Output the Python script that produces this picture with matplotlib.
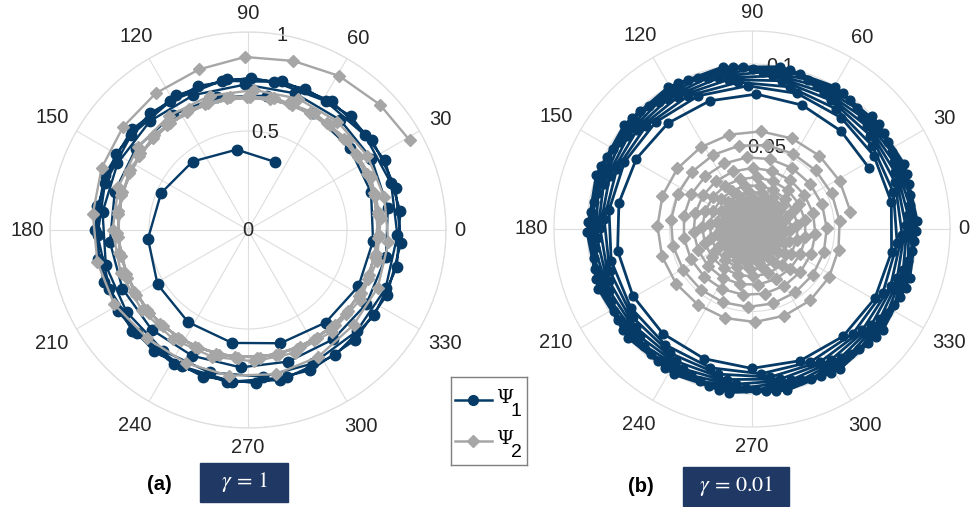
import numpy as np
import matplotlib.pyplot as plt
from matplotlib.patches import Rectangle

# colours
blue = '#053b66'
grey = '#a6a6a6'
gridc = '#dedede'
textc = '#262626'
boxc = '#1f3864'

theta_ticks = [0, 30, 60, 90, 120, 150, 180, 210, 240, 270, 300, 330]
# distance of each angle label from the centre, as a fraction of the outer ring
theta_lab_r = [1.07, 1.12, 1.115, 1.095, 1.13, 1.14, 1.115, 1.145, 1.14, 1.10, 1.145, 1.15]

# ---------------- panel (a), gamma = 1 ----------------
a_rticks = [0, 0.5, 1]
a_rlabels = ['0', '0.5', '1']

# psi1: angle in degrees (unwrapped), modulus
a_psi1_theta = [68, 98, 129, 157, 185, 211, 237, 262, 286, 310, 333, 355, 377, 399, 421,
                442, 463, 483, 504, 524, 545, 565, 586, 606, 627, 647, 668, 688, 709, 729,
                750, 770, 791, 811, 832, 852, 873, 893, 914, 934, 955, 975, 996, 1016, 1037, 1057, 1078, 1098,
                1119, 1139, 1160, 1180, 1201, 1221, 1242, 1262, 1283, 1303, 1324, 1344, 1365, 1385, 1406, 1426, 1447, 1467,
                1488, 1508, 1529, 1549, 1570, 1590, 1611, 1631, 1652, 1672, 1693, 1713, 1734, 1754, 1775, 1795, 1816, 1836,
                1857, 1877, 1898, 1918, 1939, 1959, 1980, 2000, 2021, 2041, 2062, 2082]
a_psi1_r = [0.37, 0.41, 0.445, 0.477, 0.507, 0.533, 0.555, 0.576, 0.595, 0.61, 0.626, 0.634, 0.65, 0.66, 0.675,
            0.685, 0.69, 0.695, 0.70, 0.70, 0.70, 0.70, 0.70, 0.695, 0.695, 0.695, 0.70, 0.705, 0.71, 0.715,
            0.72, 0.725, 0.73, 0.735, 0.735, 0.74, 0.74, 0.74, 0.74, 0.74, 0.745, 0.745, 0.745, 0.75, 0.75, 0.755, 0.755, 0.76,
            0.76, 0.76, 0.76, 0.765, 0.76, 0.76, 0.76, 0.76, 0.76, 0.765, 0.765, 0.77, 0.77, 0.77, 0.77, 0.775, 0.775, 0.775,
            0.775, 0.77, 0.77, 0.77, 0.77, 0.77, 0.77, 0.77, 0.775, 0.775, 0.775, 0.775, 0.775, 0.775, 0.775, 0.775, 0.775, 0.775,
            0.775, 0.77, 0.77, 0.77, 0.775, 0.775, 0.775, 0.775, 0.775, 0.775, 0.775, 0.775]

a_psi2_theta = [29, 43.5, 59.4, 75, 91, 107, 124, 140.5, 157, 174, 192, 209, 227, 245, 262.6, 281, 299, 318, 336, 355,
                373.5, 392, 410.5, 429, 447.5, 466, 484.5, 503, 521.5, 540, 558.5, 577, 595.5, 614, 632.5, 651, 669.5, 688, 706.5,
                725, 743.5, 762, 780.5, 799, 817.5, 836, 854.5, 873, 891.5, 910, 928.5, 947, 965.5, 984, 1002.5, 1021, 1039.5, 1058, 1076.5,
                1095, 1113.5, 1132, 1150.5, 1169, 1187.5, 1206, 1224.5, 1243, 1261.5, 1280, 1298.5, 1317, 1335.5, 1354, 1372.5, 1391, 1409.5, 1428,
                1446.5, 1465, 1483.5, 1502, 1520.5, 1539, 1557.5, 1576, 1594.5, 1613, 1631.5, 1650, 1668.5, 1687, 1705.5, 1724, 1742.5, 1761, 1779.5, 1798,
                1816.5, 1835, 1853.5, 1872, 1890.5, 1909, 1927.5, 1946, 1964.5, 1983, 2001.5, 2020, 2038.5, 2057, 2075.5, 2094, 2112.5, 2131, 2149.5, 2168]
a_psi2_r = [0.934, 0.919, 0.904, 0.884, 0.874, 0.848, 0.833, 0.818, 0.803, 0.788, 0.778, 0.773, 0.747, 0.742, 0.742, 0.742, 0.732, 0.717, 0.717, 0.712,
            0.708, 0.710, 0.710, 0.710, 0.708, 0.705, 0.701, 0.696, 0.690, 0.684, 0.678, 0.672, 0.668, 0.665, 0.664, 0.664, 0.665, 0.667, 0.670,
            0.673, 0.676, 0.679, 0.680, 0.681, 0.680, 0.678, 0.674, 0.670, 0.665, 0.660, 0.656, 0.652, 0.649, 0.647, 0.647, 0.649, 0.652, 0.655, 0.659,
            0.663, 0.667, 0.670, 0.672, 0.673, 0.672, 0.671, 0.668, 0.664, 0.660, 0.656, 0.652, 0.649, 0.647, 0.647, 0.648, 0.650, 0.653, 0.657,
            0.661, 0.665, 0.669, 0.671, 0.673, 0.673, 0.672, 0.669, 0.666, 0.662, 0.657, 0.654, 0.650, 0.648, 0.647, 0.647, 0.649, 0.652, 0.655, 0.660,
            0.664, 0.667, 0.670, 0.672, 0.673, 0.672, 0.670, 0.667, 0.664, 0.659, 0.655, 0.652, 0.649, 0.647, 0.647, 0.648, 0.650, 0.654, 0.658, 0.662]

# ---------------- panel (b), gamma = 0.01 ----------------
b_rmax = 0.12
b_rticks = [0, 0.05, 0.1]
b_rlabels = ['0', '0.05', '0.1']

# psi1, one row per turn (degrees, unwrapped)
b_psi1_theta = [
    [27.5, 47.7, 67.9, 88.1, 108.3, 128.5, 148.7, 168.9, 189.1, 209.3, 229.5, 249.7, 269.9, 290.1, 310.3, 330.5, 350.7, 370.9],
    [391.1, 411.3, 431.5, 451.7, 471.9, 492.1, 512.3, 532.5, 552.7, 572.9, 593.1, 613.3, 633.5, 653.7, 673.9, 694.1, 714.3, 734.5],
    [754.7, 774.9, 795.1, 815.3, 835.5, 855.7, 875.9, 896.1, 916.3, 936.5, 956.7, 976.9, 997.1, 1017.3, 1037.5, 1057.7, 1077.9, 1098.1],
    [1118.3, 1138.5, 1158.7, 1178.9, 1199.1, 1219.3, 1239.5, 1259.7, 1279.9, 1300.1, 1320.3, 1340.5, 1360.7, 1380.9, 1401.1, 1421.3, 1441.5, 1461.7],
    [1481.9, 1502.1, 1522.3, 1542.5, 1562.7, 1582.9, 1603.1, 1623.3, 1643.5, 1663.7, 1683.9, 1704.1, 1724.3, 1744.5, 1764.7, 1784.9, 1805.1, 1825.3],
    [1845.5, 1865.7, 1885.9, 1906.1, 1926.3, 1946.5, 1966.7, 1986.9, 2007.1, 2027.3, 2047.5, 2067.7, 2087.9, 2108.1, 2128.3, 2148.5, 2168.7, 2188.9],
    [2209.1, 2229.3, 2249.5, 2269.7, 2289.9, 2310.1, 2330.3, 2350.5, 2370.7, 2390.9, 2411.1, 2431.3, 2451.5, 2471.7, 2491.9, 2512.1, 2532.3, 2552.5],
    [2572.7, 2592.9, 2613.1, 2633.3, 2653.5, 2673.7, 2693.9, 2714.1, 2734.3, 2754.5, 2774.7, 2794.9, 2815.1, 2835.3, 2855.5, 2875.7, 2895.9, 2916.1],
    [2936.3, 2956.5, 2976.7, 2996.9, 3017.1, 3037.3, 3057.5, 3077.7, 3097.9, 3118.1, 3138.3, 3158.5, 3178.7, 3198.9, 3219.1, 3239.3, 3259.5, 3279.7],
    [3299.9, 3320.1, 3340.3, 3360.5, 3380.7, 3400.9, 3421.1, 3441.3, 3461.5, 3481.7, 3501.9, 3522.1, 3542.3, 3562.5, 3582.7, 3602.9, 3623.1, 3643.3],
]
# modulus in units of 1e-3
b_psi1_r = [
    [80.0, 80.2, 81.0, 81.8, 81.8, 81.9, 82.0, 82.2, 82.5, 82.8, 83.3, 83.8, 84.5, 85.0, 85.3, 85.5, 85.7, 86.0],
    [86.2, 86.4, 86.6, 86.8, 87.0, 87.2, 87.3, 87.4, 87.5, 87.6, 87.7, 87.8, 87.9, 88.0, 88.1, 88.2, 88.4, 88.5],
    [88.7, 88.9, 89.1, 89.3, 89.5, 89.6, 89.7, 89.8, 89.9, 90.0, 90.1, 90.3, 90.4, 90.5, 90.7, 90.8, 91.0, 91.2],
    [91.4, 91.5, 91.6, 91.7, 91.8, 91.9, 92.0, 92.1, 92.2, 92.3, 92.4, 92.5, 92.6, 92.7, 92.8, 92.9, 93.1, 93.3],
    [93.4, 93.5, 93.6, 93.7, 93.8, 93.9, 94.0, 94.1, 94.2, 94.3, 94.4, 94.5, 94.6, 94.7, 94.8, 94.9, 95.0, 95.1],
    [95.2, 95.3, 95.4, 95.5, 95.6, 95.7, 95.8, 95.9, 96.0, 96.1, 96.1, 96.2, 96.3, 96.4, 96.4, 96.5, 96.6, 96.7],
    [96.8, 96.8, 96.9, 97.0, 97.1, 97.1, 97.2, 97.3, 97.3, 97.4, 97.5, 97.5, 97.6, 97.7, 97.7, 97.8, 97.8, 97.9],
    [98.0, 98.0, 98.1, 98.1, 98.2, 98.2, 98.3, 98.3, 98.4, 98.4, 98.5, 98.5, 98.6, 98.6, 98.7, 98.7, 98.8, 98.8],
    [98.9, 98.9, 99.0, 99.0, 99.1, 99.1, 99.2, 99.2, 99.3, 99.3, 99.4, 99.4, 99.5, 99.5, 99.6, 99.6, 99.7, 99.7],
    [99.8, 99.8, 99.8, 99.9, 99.9, 99.9, 100.0, 100.0, 100.0, 100.1, 100.1, 100.1, 100.2, 100.2, 100.2, 100.3, 100.3, 100.3],
]

b_psi2_theta = [
    [10.0, 28.7, 47.4, 66.1, 84.8, 103.5, 122.2, 140.9, 159.6, 178.3, 197.0, 215.7, 234.4, 253.1, 271.8, 290.5, 309.2, 327.9, 346.6],
    [365.3, 384.0, 402.7, 421.4, 440.1, 458.8, 477.5, 496.2, 514.9, 533.6, 552.3, 571.0, 589.7, 608.4, 627.1, 645.8, 664.5, 683.2, 701.9],
    [720.6, 739.3, 758.0, 776.7, 795.4, 814.1, 832.8, 851.5, 870.2, 888.9, 907.6, 926.3, 945.0, 963.7, 982.4, 1001.1, 1019.8, 1038.5, 1057.2],
    [1075.9, 1094.6, 1113.3, 1132.0, 1150.7, 1169.4, 1188.1, 1206.8, 1225.5, 1244.2, 1262.9, 1281.6, 1300.3, 1319.0, 1337.7, 1356.4, 1375.1, 1393.8, 1412.5],
    [1431.2, 1449.9, 1468.6, 1487.3, 1506.0, 1524.7, 1543.4, 1562.1, 1580.8, 1599.5, 1618.2, 1636.9, 1655.6, 1674.3, 1693.0, 1711.7, 1730.4, 1749.1, 1767.8],
    [1786.5, 1805.2, 1823.9, 1842.6, 1861.3, 1880.0, 1898.7, 1917.4, 1936.1, 1954.8, 1973.5, 1992.2, 2010.9, 2029.6, 2048.3, 2067.0, 2085.7, 2104.4, 2123.1],
    [2141.8, 2160.5, 2179.2, 2197.9, 2216.6, 2235.3, 2254.0, 2272.7, 2291.4, 2310.1, 2328.8, 2347.5, 2366.2, 2384.9, 2403.6, 2422.3, 2441.0, 2459.7, 2478.4],
    [2497.1, 2515.8, 2534.5, 2553.2, 2571.9, 2590.6, 2609.3, 2628.0, 2646.7, 2665.4, 2684.1, 2702.8, 2721.5, 2740.2, 2758.9, 2777.6, 2796.3, 2815.0, 2833.7],
    [2852.4, 2871.1, 2889.8, 2908.5, 2927.2, 2945.9, 2964.6, 2983.3, 3002.0, 3020.7, 3039.4, 3058.1, 3076.8, 3095.5, 3114.2, 3132.9, 3151.6, 3170.3, 3189.0],
    [3207.7, 3226.4, 3245.1, 3263.8, 3282.5, 3301.2, 3319.9, 3338.6, 3357.3, 3376.0, 3394.7, 3413.4, 3432.1, 3450.8, 3469.5, 3488.2, 3506.9, 3525.6, 3544.3],
    [3563.0, 3581.7, 3600.4, 3619.1, 3637.8, 3656.5, 3675.2, 3693.9, 3712.6, 3731.3, 3750.0, 3768.7, 3787.4, 3806.1, 3824.8, 3843.5, 3862.2, 3880.9, 3899.6],
    [3918.3, 3937.0, 3955.7, 3974.4, 3993.1, 4011.8, 4030.5, 4049.2, 4067.9, 4086.6, 4105.3, 4124.0, 4142.7, 4161.4, 4180.1, 4198.8, 4217.5, 4236.2, 4254.9],
    [4273.6, 4292.3, 4311.0, 4329.7, 4348.4, 4367.1, 4385.8, 4404.5, 4423.2, 4441.9, 4460.6, 4479.3, 4498.0, 4516.7, 4535.4, 4554.1, 4572.8, 4591.5, 4610.2],
    [4628.9, 4647.6, 4666.3, 4685.0, 4703.7, 4722.4, 4741.1, 4759.8, 4778.5, 4797.2, 4815.9, 4834.6, 4853.3, 4872.0, 4890.7, 4909.4, 4928.1, 4946.8, 4965.5],
    [4984.2, 5002.9, 5021.6, 5040.3, 5059.0, 5077.7, 5096.4, 5115.1, 5133.8, 5152.5, 5171.2, 5189.9, 5208.6, 5227.3, 5246.0, 5264.7, 5283.4, 5302.1, 5320.8],
    [5339.5, 5358.2, 5376.9, 5395.6, 5414.3, 5433.0, 5451.7, 5470.4, 5489.1, 5507.8, 5526.5, 5545.2, 5563.9, 5582.6, 5601.3, 5620.0, 5638.7, 5657.4, 5676.1],
    [5694.8, 5713.5, 5732.2, 5750.9, 5769.6, 5788.3, 5807.0, 5825.7, 5844.4, 5863.1, 5881.8, 5900.5, 5919.2, 5937.9, 5956.6, 5975.3, 5994.0, 6012.7, 6031.4],
    [6050.1, 6068.8, 6087.5, 6106.2, 6124.9, 6143.6, 6162.3, 6181.0, 6199.7, 6218.4, 6237.1, 6255.8, 6274.5, 6293.2, 6311.9, 6330.6, 6349.3, 6368.0, 6386.7],
]
b_psi2_r = [
    [60.6, 60.6, 60.3, 60.0, 59.4, 58.8, 58.5, 58.2, 57.9, 57.3, 57.0, 56.7, 56.4, 56.4, 56.4, 56.1, 55.8, 55.1, 53.9],
    [53.3, 52.9, 52.4, 52.0, 51.6, 51.1, 50.7, 50.2, 49.8, 49.4, 49.0, 48.5, 48.1, 47.8, 47.3, 46.9, 46.5, 46.1, 45.8],
    [45.3, 45.0, 44.6, 44.2, 43.8, 43.5, 43.1, 42.7, 42.4, 42.0, 41.6, 41.3, 40.9, 40.6, 40.2, 39.9, 39.6, 39.2, 38.9],
    [38.5, 38.2, 37.9, 37.6, 37.3, 37.0, 36.7, 36.3, 36.0, 35.7, 35.4, 35.1, 34.8, 34.5, 34.2, 33.9, 33.6, 33.3, 33.1],
    [32.8, 32.5, 32.2, 32.0, 31.7, 31.5, 31.1, 30.9, 30.6, 30.4, 30.1, 29.9, 29.6, 29.3, 29.1, 28.8, 28.6, 28.4, 28.1],
    [27.9, 27.6, 27.4, 27.1, 27.0, 26.7, 26.5, 26.2, 26.1, 25.8, 25.6, 25.4, 25.1, 25.0, 24.7, 24.5, 24.3, 24.1, 23.9],
    [23.7, 23.5, 23.3, 23.1, 22.9, 22.7, 22.5, 22.3, 22.1, 21.9, 21.8, 21.6, 21.4, 21.2, 21.0, 20.8, 20.7, 20.5, 20.3],
    [20.2, 20.0, 19.8, 19.6, 19.5, 19.3, 19.1, 19.0, 18.8, 18.7, 18.5, 18.4, 18.2, 18.1, 17.9, 17.8, 17.6, 17.5, 17.3],
    [17.1, 17.0, 16.8, 16.7, 16.5, 16.4, 16.3, 16.1, 16.0, 15.9, 15.8, 15.6, 15.5, 15.3, 15.2, 15.1, 15.0, 14.8, 14.7],
    [14.5, 14.4, 14.3, 14.2, 14.1, 13.9, 13.8, 13.7, 13.6, 13.5, 13.4, 13.3, 13.2, 13.0, 12.9, 12.8, 12.7, 12.6, 12.5],
    [12.4, 12.3, 12.2, 12.1, 12.0, 11.9, 11.8, 11.7, 11.6, 11.5, 11.4, 11.3, 11.2, 11.1, 11.0, 10.9, 10.8, 10.7, 10.6],
    [10.5, 10.4, 10.4, 10.3, 10.2, 10.1, 10.0, 9.9, 9.9, 9.8, 9.7, 9.6, 9.5, 9.5, 9.4, 9.3, 9.2, 9.2, 9.0],
    [9.0, 8.9, 8.8, 8.7, 8.7, 8.6, 8.5, 8.5, 8.4, 8.3, 8.2, 8.2, 8.1, 8.1, 8.0, 7.9, 7.8, 7.8, 7.7],
    [7.6, 7.6, 7.5, 7.5, 7.4, 7.3, 7.3, 7.2, 7.2, 7.1, 7.0, 7.0, 6.9, 6.8, 6.8, 6.7, 6.7, 6.6, 6.5],
    [6.5, 6.4, 6.4, 6.3, 6.3, 6.2, 6.2, 6.1, 6.1, 6.0, 6.0, 5.9, 5.9, 5.8, 5.8, 5.8, 5.7, 5.6, 5.6],
    [5.5, 5.5, 5.5, 5.4, 5.3, 5.3, 5.3, 5.2, 5.2, 5.2, 5.1, 5.0, 5.0, 5.0, 4.9, 4.9, 4.8, 4.8, 4.8],
    [4.7, 4.7, 4.6, 4.6, 4.6, 4.5, 4.5, 4.5, 4.4, 4.4, 4.4, 4.3, 4.3, 4.3, 4.2, 4.2, 4.2, 4.1, 4.1],
    [4.0, 4.0, 4.0, 3.9, 3.9, 3.9, 3.8, 3.8, 3.8, 3.7, 3.7, 3.7, 3.6, 3.6, 3.6, 3.5, 3.5, 3.5, 3.4],
]

labels = ['(a)', '(b)']
gammas = [r'$\gamma\,=\,1$', r'$\gamma\,=\,0.01$']

W, H = 971, 507
fig = plt.figure(figsize=(W / 100, H / 100), dpi=100)


def box(x0, y0, w, h):
    # pixel box (top-left origin) -> figure fraction
    return [x0 / W, 1 - (y0 + h) / H, w / W, h / H]


def setup(ax, rmax, rticks, rlabels):
    ax.set_ylim(0, rmax)
    ax.set_yticks(rticks[1:])
    ax.set_yticklabels([])
    ax.set_thetagrids(theta_ticks, [''] * len(theta_ticks))
    ax.grid(True, color=gridc, lw=0.8)
    ax.spines['polar'].set_color(gridc)
    ax.spines['polar'].set_linewidth(0.9)
    for t, f in zip(theta_ticks, theta_lab_r):
        ax.text(np.deg2rad(t), f * rmax, str(t), ha='center', va='center', fontsize=14.5,
                color=textc, family='Liberation Sans', clip_on=False)
    # radial labels sit above the grid but under the curves
    for r, s in zip(rticks, rlabels):
        ax.text(np.deg2rad(80), r, s, ha='center', va='center', fontsize=14.5,
                color=textc, family='Liberation Sans', zorder=2.5)


ax_a = fig.add_axes(box(50, 32, 396, 396), projection='polar')
ax_b = fig.add_axes(box(554, 31, 396, 396), projection='polar')

setup(ax_a, 1.0, a_rticks, a_rlabels)
setup(ax_b, b_rmax, b_rticks, b_rlabels)

ax_a.plot(np.deg2rad(a_psi1_theta), a_psi1_r, '-o', color=blue, lw=1.7, ms=7.5, zorder=3)
ax_a.plot(np.deg2rad(a_psi2_theta), a_psi2_r, '-D', color=grey, lw=1.7, ms=6.3, zorder=4)

th1 = np.deg2rad(np.concatenate(b_psi1_theta))
r1 = np.concatenate(b_psi1_r) / 1000
th2 = np.deg2rad(np.concatenate(b_psi2_theta))
r2 = np.concatenate(b_psi2_r) / 1000
ax_b.plot(th1, r1, '-o', color=blue, lw=2.0, ms=6.3, zorder=3)
ax_b.plot(th2, r2, '-D', color=grey, lw=1.8, ms=6.3, zorder=4)

# legend drawn by hand in its own box
lg = fig.add_axes(box(451, 377, 76, 88))
lg.set_xlim(451, 527)
lg.set_ylim(465, 377)
lg.set_xticks([])
lg.set_yticks([])
for sp in lg.spines.values():
    sp.set_color('#7f7f7f')
    sp.set_linewidth(1.0)
lg.plot([455, 492], [400, 400], color=blue, lw=1.8)
lg.plot([473], [400], 'o', color=blue, ms=7)
lg.plot([455, 492], [441, 441], color=grey, lw=1.8)
lg.plot([473], [441], 'D', color=grey, ms=6.5)
for y, sub in [(398, '1'), (439, '2')]:
    lg.text(496, y, '\u03a8', fontsize=14, family='DejaVu Serif', color='black', ha='left', va='center')
    lg.text(510.5, y + 13, sub, fontsize=14, family='Liberation Sans', color='black', ha='left', va='center')

# panel captions
for (cx, cy), lab in zip([(159, 485), (641, 486)], labels):
    fig.text(cx / W, 1 - cy / H, lab, fontsize=14.5, fontweight='bold', family='Liberation Sans',
             ha='center', va='center', color='black')

for (x0, y0, w, h), g in zip([(200, 463, 88, 39), (683, 467, 106, 39)], gammas):
    fig.patches.append(Rectangle((x0 / W, 1 - (y0 + h) / H), w / W, h / H,
                                 transform=fig.transFigure, color=boxc, zorder=5))
    fig.text((x0 + w / 2) / W, 1 - (y0 + h / 2) / H, g, fontsize=16, color='white',
             ha='center', va='center', math_fontfamily='stix', zorder=6)

fig.savefig('out.png', dpi=100)
